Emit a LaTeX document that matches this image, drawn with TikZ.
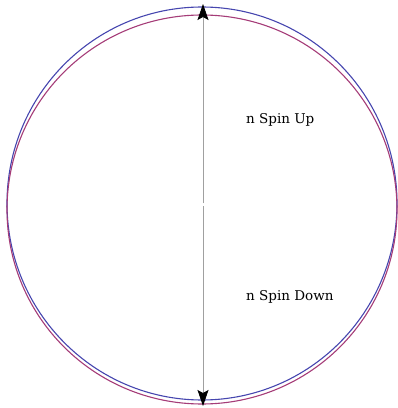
\documentclass[tikz,border=0pt]{standalone}
\usepackage{fontspec}
\setmainfont{DejaVu Serif}
\usetikzlibrary{arrows.meta}
\definecolor{upblue}{RGB}{70,70,175}
\definecolor{downred}{RGB}{165,60,120}
\definecolor{axisgray}{RGB}{160,160,160}

\begin{document}
\begin{tikzpicture}[x=1pt,y=1pt]
        \useasboundingbox (0,0) rectangle (398,408);
        % дві сфери Фермі, зсунуті по вертикалі
        \coordinate (O) at (203,203);
        \coordinate (T) at (203,404);
        \coordinate (B) at (203,2);

        \draw[upblue, line width=1.1pt] (202,204.5) ellipse (195 and 196.5);
        \draw[downred, line width=1.1pt] (202,198.5) ellipse (195 and 194.5);

        % радіуси
        \draw[axisgray, line width=0.7pt, shorten <=1.5pt, -{Stealth[black,length=16pt,width=11pt,inset=3pt]}] (O) -- (T);
        \draw[axisgray, line width=0.7pt, shorten <=1.5pt, -{Stealth[black,length=16pt,width=11pt,inset=3pt]}] (O) -- (B);

        \node[anchor=base west, inner sep=0pt, font=\fontsize{13.5}{16}\selectfont] (up) at (246,284) {n Spin Up};
        \node[anchor=base west, inner sep=0pt, font=\fontsize{13.5}{16}\selectfont] (down) at (246,107) {n Spin Down};

    \end{tikzpicture}
\end{document}
